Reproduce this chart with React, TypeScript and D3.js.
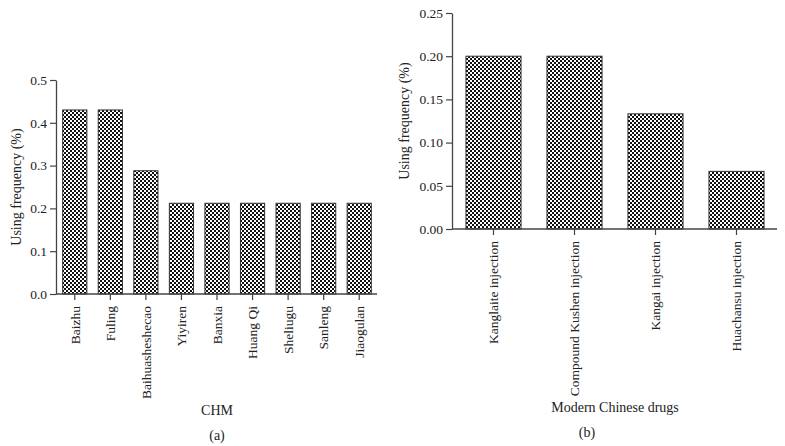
import React from 'react';
import * as d3 from 'd3';

// panel (a): CHM
const chmNames = ['Baizhu', 'Fuling', 'Baihuasheshecao', 'Yiyiren', 'Banxia', 'Huang Qi', 'Sheliugu', 'Sanleng', 'Jiaogulan'];
const chmFreq = [0.43, 0.43, 0.288, 0.212, 0.212, 0.212, 0.212, 0.212, 0.212];
const chmTicks = [0.0, 0.1, 0.2, 0.3, 0.4, 0.5];

// panel (b): modern Chinese drugs
const drugNames = ['Kanglaite injection', 'Compound Kushen injection', 'Kangai injection', 'Huachansu injection'];
const drugFreq = [0.2, 0.2, 0.1333, 0.0667];
const drugTicks = [0.0, 0.05, 0.1, 0.15, 0.2, 0.25];

const font = '"Liberation Serif", "DejaVu Serif", serif';
const fontSize = '13.5px';
const axisColor = '#444';

class App extends React.Component {
  ref = React.createRef<SVGSVGElement>();

  componentDidMount() {
    this.drawChart();
  }

  drawPanel(svg, opts) {
    const { names, values, ticks, fmt, x0, x1, yTop, yBottom, title, tag, titleY, tagX, tagY, yTitleX } = opts;

    const x = d3.scaleBand().domain(names).range([x0, x1]).paddingInner(0.32).paddingOuter(0.16);
    const y = d3.scaleLinear().domain([0, ticks[ticks.length - 1]]).range([yBottom, yTop]);

    const g = svg.append('g');

    g.selectAll('rect.bar')
      .data(values)
      .enter().append('rect')
        .attr('class', 'bar')
        .attr('x', (d, i) => x(names[i]))
        .attr('y', d => y(d))
        .attr('width', x.bandwidth())
        .attr('height', d => y(0) - y(d))
        .attr('fill', 'url(#checker)')
        .attr('stroke', '#333')
        .attr('stroke-width', 1);

    const yAxis = g.append('g')
      .attr('transform', 'translate(' + (x0 - 1) + ',0)')
      .call(d3.axisLeft(y).tickValues(ticks).tickFormat(fmt).tickSize(6).tickSizeOuter(0));

    const xAxis = g.append('g')
      .attr('transform', 'translate(0,' + yBottom + ')')
      .call(d3.axisBottom(x).tickSize(6).tickSizeOuter(0));

    [yAxis, xAxis].forEach(a => {
      a.select('.domain').attr('stroke', axisColor).attr('stroke-width', 1.3);
      a.selectAll('.tick line').attr('stroke', axisColor).attr('stroke-width', 1.2);
      a.selectAll('text').attr('fill', '#222').style('font-family', font).style('font-size', fontSize);
    });
    // let the x axis line start at the y axis
    xAxis.select('.domain').attr('d', 'M' + (x0 - 1) + ',0H' + x1);

    yAxis.selectAll('text').attr('x', -9);

    xAxis.selectAll('text')
      .attr('text-anchor', 'end')
      .attr('transform', 'rotate(-90)')
      .attr('x', -12)
      .attr('y', 0)
      .attr('dy', '0.35em');

    g.append('text')
      .attr('transform', 'translate(' + yTitleX + ',' + (yTop + yBottom) / 2 + ') rotate(-90)')
      .attr('text-anchor', 'middle')
      .style('font-family', font)
      .style('font-size', '14px')
      .attr('fill', '#222')
      .text('Using frequency (%)');

    g.append('text')
      .attr('x', (x0 + x1) / 2)
      .attr('y', titleY)
      .attr('text-anchor', 'middle')
      .style('font-family', font)
      .style('font-size', '14px')
      .attr('fill', '#222')
      .text(title);

    g.append('text')
      .attr('x', tagX)
      .attr('y', tagY)
      .attr('text-anchor', 'middle')
      .style('font-family', font)
      .style('font-size', '14px')
      .attr('fill', '#222')
      .text(tag);
  }

  drawChart() {
    const svg = d3.select(this.ref.current);

    const pat = svg.append('defs').append('pattern')
      .attr('id', 'checker')
      .attr('patternUnits', 'userSpaceOnUse')
      .attr('width', 4)
      .attr('height', 4);
    pat.append('rect').attr('width', 4).attr('height', 4).attr('fill', '#fff');
    pat.append('rect').attr('width', 2).attr('height', 2).attr('fill', '#111');
    pat.append('rect').attr('x', 2).attr('y', 2).attr('width', 2).attr('height', 2).attr('fill', '#111');

    this.drawPanel(svg, {
      names: chmNames, values: chmFreq, ticks: chmTicks, fmt: d3.format('.1f'),
      x0: 57, x1: 377, yTop: 80, yBottom: 294,
      title: 'CHM', tag: '(a)', titleY: 415, tagX: 217, tagY: 440, yTitleX: 21
    });

    this.drawPanel(svg, {
      names: drugNames, values: drugFreq, ticks: drugTicks, fmt: d3.format('.2f'),
      x0: 453, x1: 777, yTop: 13, yBottom: 229,
      title: 'Modern Chinese drugs', tag: '(b)', titleY: 412, tagX: 587, tagY: 437, yTitleX: 409
    });
  }

  render() {
    return <svg ref={this.ref} width={785} height={446}
      style={{ position: 'absolute', left: 0, top: 0, background: '#fff' }} />;
  }
}

export default App;
